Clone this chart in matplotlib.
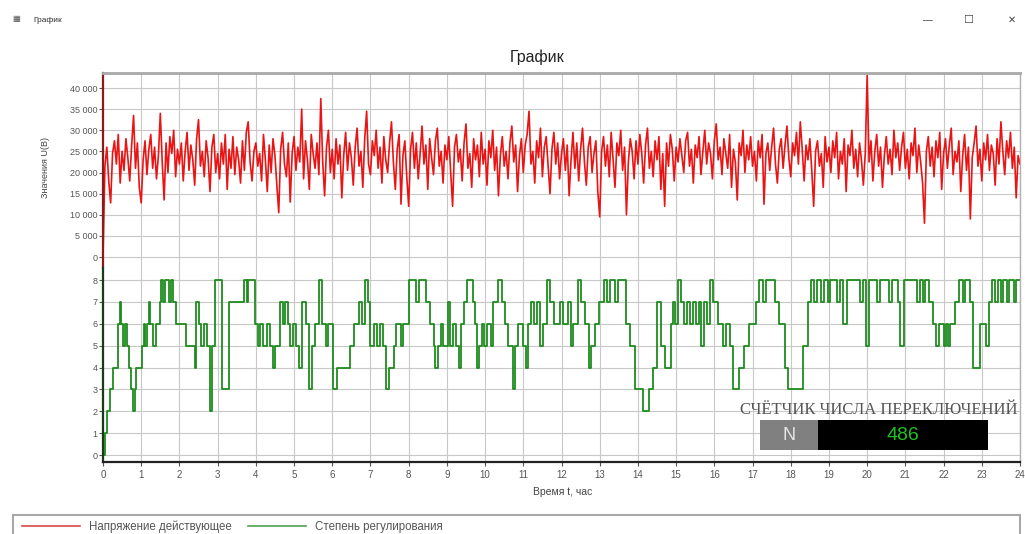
import numpy as np
import matplotlib
matplotlib.use('Agg')
import matplotlib.pyplot as plt
from matplotlib.patches import Rectangle
from matplotlib.lines import Line2D

plt.rcParams['font.family'] = ['Liberation Sans', 'DejaVu Sans']

# Напряжение действующее, тысячи вольт, шаг 3 минуты (0.05 ч)
red_step_h = 0.05
red_kv = [
    0.0, 21.5, 26.0, 18.0, 12.8, 24.5, 27.5, 22.0, 29.0, 17.5, 25.0, 20.5, 28.0, 23.5, 18.0, 26.5, 33.5, 21.0, 27.0, 16.5,
    12.8, 23.0, 27.5, 19.5, 25.5, 29.0, 21.0, 26.0, 18.5, 24.0, 34.0, 22.5, 13.5, 27.0, 20.0, 28.5, 24.5, 30.0, 19.0, 25.5,
    22.0, 27.0, 18.0, 25.0, 29.5, 20.5, 26.5, 23.0, 17.0, 28.0, 32.5, 21.5, 25.0, 19.0, 27.5, 23.5, 15.5, 26.0, 29.0, 20.0,
    24.5, 18.5, 27.0, 22.0, 29.0, 16.0, 25.5, 21.0, 28.5, 19.5, 26.0, 23.0, 17.5, 27.5, 20.5, 29.5, 32.0, 22.5, 18.0, 25.0,
    27.0, 21.5, 24.5, 18.0, 29.0, 23.0, 15.5, 26.5, 20.0, 28.0, 24.0, 17.0, 10.5, 25.5, 29.5, 22.0, 19.0, 27.0, 13.0, 24.5,
    28.5, 20.5, 26.0, 22.5, 35.0, 18.5, 27.5, 23.0, 16.0, 29.0, 24.5, 21.0, 27.0, 19.5, 37.5, 22.5, 14.5, 26.0, 30.0, 20.0,
    25.5, 18.5, 28.0, 22.0, 26.5, 14.0, 24.0, 29.5, 20.5, 27.0, 23.5, 17.0, 26.0, 30.5, 21.5, 25.0, 16.5, 28.0, 34.5, 22.0,
    19.5, 27.5, 24.0, 30.0, 21.0, 26.0, 17.5, 28.5, 23.0, 20.0, 27.0, 32.0, 22.5, 16.0, 25.5, 29.0, 12.5, 24.0, 27.5, 19.0,
    12.0, 25.5, 29.5, 21.0, 27.0, 18.5, 24.5, 31.0, 22.0, 26.5, 16.0, 28.0, 23.5, 19.5, 27.5, 30.5, 21.5, 25.0, 17.5, 26.5,
    23.0, 28.5, 20.0, 12.0, 26.0, 29.0, 22.5, 25.5, 18.0, 27.0, 31.5, 21.0, 24.5, 16.5, 28.0, 23.0, 26.5, 19.0, 29.5, 22.0,
    25.5, 17.0, 27.5, 23.5, 30.0, 20.5, 26.0, 14.5, 24.0, 28.5, 21.5, 25.0, 18.5, 27.0, 31.0, 22.5, 26.5, 15.5, 24.0, 28.0,
    20.0, 26.5, 29.0, 34.5, 22.0, 25.0, 17.5, 27.5, 23.5, 30.5, 19.0, 26.0, 28.5, 21.5, 15.0, 25.5, 29.5, 22.0, 27.0, 18.5,
    24.5, 28.0, 20.5, 26.5, 14.5, 23.0, 29.5, 21.0, 27.0, 18.0, 25.5, 30.5, 22.5, 17.0, 26.0, 28.5, 20.0, 24.5, 27.5, 15.5,
    9.5, 25.0, 28.5, 21.5, 26.5, 19.0, 29.5, 23.0, 16.5, 27.0, 24.0, 30.0, 20.5, 26.0, 10.0, 22.5, 28.0, 25.0, 18.5, 27.5,
    22.0, 29.0, 24.5, 17.5, 26.5, 30.5, 21.0, 25.0, 19.0, 27.5, 23.0, 28.5, 16.0, 24.5, 12.0, 27.0, 21.5, 29.0, 25.5, 18.0,
    26.0, 22.5, 28.0, 24.0, 20.0, 27.5, 29.5, 21.5, 25.5, 17.5, 26.5, 23.5, 28.5, 19.5, 25.0, 30.0, 22.0, 27.0, 24.5, 18.5,
    27.5, 31.5, 23.0, 26.0, 19.5, 28.0, 24.5, 21.0, 29.0, 16.5, 25.5, 22.5, 13.5, 27.0, 24.0, 30.0, 20.0, 26.5, 23.0, 28.5,
    21.5, 25.0, 18.0, 27.5, 23.5, 29.0, 12.5, 24.5, 27.0, 20.5, 26.0, 30.5, 22.0, 17.5, 25.5, 28.0, 21.0, 26.5, 31.0, 23.5,
    19.0, 27.0, 24.0, 29.5, 22.0, 32.0, 25.5, 18.0, 26.5, 23.0, 28.0, 20.5, 12.0, 25.0, 27.5, 21.5, 24.5, 16.5, 28.5, 22.5,
    26.0, 20.0, 27.5, 23.5, 29.5, 18.5, 25.0, 22.0, 28.0, 15.5, 26.5, 24.0, 30.0, 21.0, 25.5, 19.0, 27.0, 23.0, 17.0, 24.5,
    43.0, 22.5, 27.5, 18.0, 25.0, 29.0, 21.5, 26.0, 16.5, 24.0, 28.5, 22.0, 25.5, 19.5, 30.0, 23.5, 27.0, 20.5, 26.0, 29.5,
    21.0, 25.5, 18.5, 27.0, 24.0, 30.5, 20.0, 26.5, 22.5, 17.5, 8.0, 25.0, 28.5, 21.5, 26.0, 19.0, 27.5, 23.5, 29.5, 16.0,
    24.5, 28.0, 21.0, 26.5, 30.5, 19.5, 25.0, 22.5, 27.5, 15.5, 24.0, 29.0, 20.5, 26.0, 9.0, 23.5, 27.0, 31.0, 21.5, 25.5,
    18.0, 27.0, 23.0, 29.0, 20.5, 26.5, 24.5, 17.0, 28.0, 22.0, 32.0, 25.0, 19.5, 27.5, 23.5, 29.5, 21.0, 26.0, 14.0, 24.0,
    22.0,
]

# Степень регулирования: моменты переключения (ч) и ступень после них
green_t = [
    0.00, 0.04, 0.10, 0.18, 0.26, 0.40, 0.44, 0.48, 0.53, 0.58, 0.63, 0.68, 0.72, 0.79, 0.83, 0.86,
    1.02, 1.06, 1.10, 1.16, 1.20, 1.24, 1.30, 1.38, 1.48, 1.52, 1.58, 1.62, 1.72, 1.78, 1.84, 1.92,
    2.18, 2.40, 2.44, 2.50, 2.56, 2.64, 2.72, 2.80, 2.84, 2.92, 3.12, 3.30, 3.68, 3.76, 3.80, 3.98,
    4.06, 4.12, 4.20, 4.30, 4.38, 4.44, 4.50, 4.62, 4.70, 4.76, 4.84, 4.90, 4.98, 5.06, 5.14, 5.20,
    5.30, 5.40, 5.46, 5.56, 5.66, 5.72, 5.84, 5.90, 6.02, 6.12, 6.46, 6.56, 6.70, 6.78, 6.86, 6.94,
    7.00, 7.08, 7.16, 7.24, 7.32, 7.40, 7.48, 7.62, 7.68, 7.80, 7.86, 8.02, 8.20, 8.28, 8.45, 8.55,
    8.65, 8.70, 8.76, 8.85, 8.90, 9.02, 9.08, 9.16, 9.25, 9.33, 9.38, 9.45, 9.53, 9.68, 9.74, 9.80,
    9.85, 9.92, 9.98, 10.05, 10.15, 10.22, 10.35, 10.45, 10.52, 10.60, 10.72, 10.78, 10.86, 11.00, 11.08, 11.12,
    11.20, 11.28, 11.36, 11.45, 11.52, 11.62, 11.70, 11.80, 11.95, 12.05, 12.18, 12.24, 12.30, 12.42, 12.52, 12.62,
    12.72, 12.78, 12.88, 12.98, 13.10, 13.18, 13.28, 13.40, 13.48, 13.70, 13.80, 13.92, 14.12, 14.30, 14.40, 14.50,
    14.60, 14.72, 14.86, 14.92, 14.98, 15.06, 15.12, 15.20, 15.28, 15.36, 15.44, 15.52, 15.60, 15.66, 15.72, 15.80,
    15.88, 15.96, 16.10, 16.22, 16.30, 16.40, 16.50, 16.64, 16.78, 16.92, 17.08, 17.18, 17.28, 17.34, 17.60, 17.70,
    17.86, 17.94, 18.32, 18.44, 18.52, 18.62, 18.70, 18.80, 18.86, 18.98, 19.04, 19.20, 19.28, 19.38, 19.48, 19.80,
    19.88, 19.96, 20.04, 20.26, 20.34, 20.58, 20.66, 20.80, 20.86, 20.96, 21.30, 21.38, 21.46, 21.52, 21.62, 21.72,
    21.80, 21.88, 22.00, 22.06, 22.12, 22.16, 22.30, 22.40, 22.50, 22.56, 22.68, 22.78, 22.96, 23.10, 23.18, 23.26,
    23.34, 23.42, 23.50, 23.56, 23.66, 23.72, 23.84, 23.90, 24.00,
]
green_v = [
    0, 1, 2, 3, 4, 6, 7, 6, 5, 6, 5, 4, 3, 2, 3, 4,
    5, 6, 5, 6, 7, 6, 5, 6, 7, 8, 7, 8, 7, 8, 7, 6,
    5, 4, 7, 6, 5, 6, 5, 2, 5, 8, 3, 7, 8, 7, 8, 6,
    5, 6, 5, 6, 5, 4, 5, 7, 6, 7, 6, 5, 6, 5, 4, 7,
    6, 3, 5, 6, 8, 6, 5, 6, 3, 4, 5, 6, 7, 6, 8, 7,
    5, 6, 5, 6, 5, 3, 4, 5, 6, 5, 6, 8, 7, 8, 7, 6,
    5, 4, 5, 6, 5, 7, 5, 6, 5, 4, 6, 7, 8, 7, 6, 4,
    5, 6, 5, 6, 5, 7, 8, 7, 6, 5, 3, 5, 6, 5, 4, 6,
    7, 6, 7, 5, 6, 8, 7, 6, 7, 6, 7, 5, 6, 8, 7, 6,
    4, 5, 6, 7, 8, 7, 8, 7, 8, 6, 5, 3, 2, 3, 4, 7,
    5, 4, 6, 7, 6, 8, 7, 6, 7, 6, 7, 6, 7, 5, 7, 6,
    8, 7, 6, 5, 6, 5, 3, 4, 5, 6, 7, 8, 7, 8, 7, 6,
    4, 3, 5, 7, 8, 7, 8, 7, 8, 7, 8, 7, 8, 6, 8, 7,
    8, 5, 8, 7, 8, 7, 8, 7, 5, 8, 7, 8, 7, 8, 7, 6,
    5, 6, 5, 6, 5, 6, 7, 8, 7, 8, 7, 4, 6, 5, 7, 8,
    7, 8, 7, 8, 7, 8, 7, 8, 8,
]

switch_count = 486
hour_ticks = list(range(0, 25))
u_ticks = [0, 5000, 10000, 15000, 20000, 25000, 30000, 35000, 40000]
step_ticks = [0, 1, 2, 3, 4, 5, 6, 7, 8]

W, H = 1025, 534


def fx(px):
    return px / W


def fy(py):
    return 1 - py / H


fig = plt.figure(figsize=(W / 100, H / 100), dpi=100)
fig.patch.set_facecolor('white')

left, right, top, mid, bottom = 103, 1020, 73, 268, 462
ax_u = fig.add_axes([fx(left), fy(mid), fx(right - left), (mid - top) / H])
ax_l = fig.add_axes([fx(left), fy(bottom), fx(right - left), (bottom - mid) / H], sharex=ax_u)

red_t = np.arange(len(red_kv)) * red_step_h
line_u, = ax_u.plot(red_t, np.array(red_kv) * 1000, color='#ea1414', lw=1.2,
                    label='Напряжение действующее')
line_l, = ax_l.step(green_t, green_v, where='post', color='#1e8c1e', lw=1.3,
                    label='Степень регулирования')

ax_u.set_xlim(0, 24)
ax_u.set_ylim(-2600, 43550)
ax_l.set_ylim(-0.32, 8.55)

ax_u.set_yticks(u_ticks)
ax_u.set_yticklabels([f'{v:,}'.replace(',', ' ') for v in u_ticks])
ax_l.set_yticks(step_ticks)
ax_l.set_xticks(hour_ticks)
ax_u.tick_params(axis='x', labelbottom=False, length=0)

for ax in (ax_u, ax_l):
    ax.grid(True, color='#c8c8c8', lw=0.8)
    ax.set_axisbelow(True)
    ax.tick_params(axis='y', labelsize=6.5, colors='#555555', length=3, width=0.8, pad=1)
    ax.spines['right'].set_color('#b0b0b0')
    ax.spines['right'].set_linewidth(1.0)

ax_l.tick_params(axis='x', labelsize=7, colors='#555555', length=3, width=0.8, pad=3)

ax_u.spines['top'].set_color('#a8a8a8')
ax_u.spines['top'].set_linewidth(2.0)
ax_u.spines['bottom'].set_visible(False)
ax_u.spines['left'].set_color('#8b1a1a')
ax_u.spines['left'].set_linewidth(1.6)
ax_l.spines['top'].set_visible(False)
ax_l.spines['bottom'].set_color('#222222')
ax_l.spines['bottom'].set_linewidth(1.6)
ax_l.spines['left'].set_color('#1a3a1a')
ax_l.spines['left'].set_linewidth(1.6)

# заголовки и подписи
fig.text(fx(537), fy(57), 'График', fontsize=11.5, ha='center', va='center', color='#222222')
fig.text(fx(33), fy(20), 'График', fontsize=6, ha='left', va='center', color='#333333')
fig.text(fx(12), fy(20), '▦', fontsize=6, ha='left', va='center', color='#555555')
fig.text(fx(928), fy(20), '—', fontsize=7, ha='center', va='center', color='#444444')
fig.text(fx(968), fy(20), '☐', fontsize=8, ha='center', va='center', color='#444444')
fig.text(fx(1012), fy(20), '✕', fontsize=7, ha='center', va='center', color='#444444')
fig.text(fx(45), fy(168), 'Значения U(В)', fontsize=6.5, rotation=90, ha='center', va='center',
         color='#444444')
fig.text(fx(563), fy(492), 'Время t, час', fontsize=7.5, ha='center', va='center', color='#444444')

# счётчик переключений
fig.text(fx(879), fy(410), 'СЧЁТЧИК ЧИСЛА ПЕРЕКЛЮЧЕНИЙ', family='Liberation Serif', fontsize=12,
         ha='center', va='center', color='#555555')
fig.add_artist(Rectangle((fx(760), fy(450)), fx(58), 30 / H, transform=fig.transFigure,
                         facecolor='#808080', edgecolor='none'))
fig.add_artist(Rectangle((fx(818), fy(450)), fx(170), 30 / H, transform=fig.transFigure,
                         facecolor='#000000', edgecolor='none'))
fig.text(fx(789), fy(436), 'N', fontsize=13, ha='center', va='center', color='#e6e6e6')
fig.text(fx(903), fy(436), str(switch_count), fontsize=14, ha='center', va='center', color='#22c022')

# легенда
fig.add_artist(Rectangle((fx(13), -0.02), fx(1007), (534 - 515) / H + 0.02, transform=fig.transFigure,
                         facecolor='white', edgecolor='#a8a8a8', lw=1.5))
fig.legend(handles=[Line2D([], [], color='#d84848', lw=1.2), Line2D([], [], color='#50a050', lw=1.2)],
           labels=[line_u.get_label(), line_l.get_label()],
           loc='center left', bbox_to_anchor=(fx(12), fy(527)), ncol=2, frameon=False,
           fontsize=8.3, handlelength=5.0, columnspacing=1.4, handletextpad=0.8,
           labelcolor='#555555')

fig.savefig('out.png', dpi=100)
